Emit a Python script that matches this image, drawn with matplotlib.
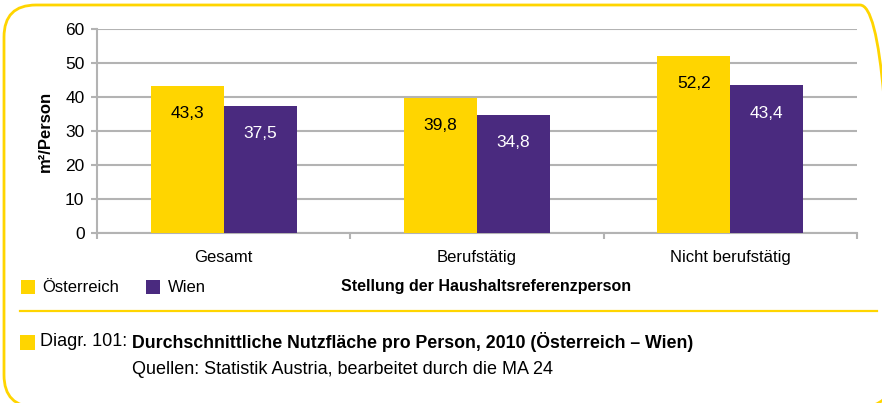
import matplotlib
matplotlib.use("Agg")
import matplotlib.pyplot as plt
from matplotlib.patches import FancyBboxPatch, Rectangle
from matplotlib.lines import Line2D
import numpy as np

categories = ["Gesamt", "Berufstätig", "Nicht berufstätig"]
oesterreich = [43.3, 39.8, 52.2]
wien = [37.5, 34.8, 43.4]
series_names = ["Österreich", "Wien"]
yticks = [0, 10, 20, 30, 40, 50, 60]

YEL = "#FFD500"
PUR = "#4A2A7F"
GRID = "#B3B3B3"

plt.rcParams['font.family'] = ['Liberation Sans Narrow', 'Liberation Sans', 'DejaVu Sans']

W, H = 882, 403
fig = plt.figure(figsize=(W/100, H/100), dpi=100)

def fx(px): return px / W
def fy(py): return 1 - py / H

# background overlay axes in pixel coordinates (y up)
bg = fig.add_axes([0, 0, 1, 1])
bg.set_xlim(0, W)
bg.set_ylim(0, H)
bg.axis('off')
def Y(py): return H - py
bg.add_patch(FancyBboxPatch((4, Y(407)), 888, 402,
                            boxstyle="round,pad=0,rounding_size=32",
                            fill=False, edgecolor=YEL, lw=2.0, clip_on=False))
bg.add_line(Line2D([20, 877], [Y(311), Y(311)], color=YEL, lw=1.6))

ax = fig.add_axes([fx(97), fy(233), fx(857) - fx(97), (233-29)/H])
x = np.arange(len(categories))
bw = 0.288
ax.bar(x - bw/2, oesterreich, bw, color=YEL, zorder=3)
ax.bar(x + bw/2, wien, bw, color=PUR, zorder=3)
for i in range(len(categories)):
    ax.text(x[i] - bw/2, oesterreich[i] - 8.3, f"{oesterreich[i]:.1f}".replace('.', ','),
            ha='center', va='center', fontsize=12.5, color='black', zorder=4)
    ax.text(x[i] + bw/2, wien[i] - 8.3, f"{wien[i]:.1f}".replace('.', ','),
            ha='center', va='center', fontsize=12.5, color='white', zorder=4)

ax.set_xlim(-0.5, 2.5)
ax.set_ylim(0, 60)
ax.set_yticks(yticks)
ax.set_yticklabels([str(t) for t in yticks], fontsize=12.5)
ax.yaxis.grid(True, color=GRID, lw=1.5, zorder=0)
ax.set_axisbelow(True)
for s in ['top', 'right']:
    ax.spines[s].set_visible(False)
for s in ['left', 'bottom']:
    ax.spines[s].set_color(GRID)
    ax.spines[s].set_linewidth(1.5)
ax.tick_params(axis='y', length=4, color=GRID, width=1.5, pad=5)
ax.set_xticks(x)
ax.set_xticklabels(categories, fontsize=12)
ax.tick_params(axis='x', length=0, pad=12)
ax.set_xticks([-0.5, 0.5, 1.5, 2.5], minor=True)
ax.tick_params(axis='x', which='minor', length=4, color=GRID, width=1.5)
ax.set_ylabel("m²/Person", fontsize=12, fontweight='bold', labelpad=9)

# legend
bg.add_patch(Rectangle((21, Y(294)), 14, 14, facecolor=YEL, edgecolor='none'))
bg.text(42, Y(287), series_names[0], fontsize=12, va='center', ha='left')
bg.add_patch(Rectangle((146, Y(294)), 14, 14, facecolor=PUR, edgecolor='none'))
bg.text(168, Y(287), series_names[1], fontsize=12, va='center', ha='left')
bg.text(486, Y(287), "Stellung der Haushaltsreferenzperson", fontsize=11.5,
        fontweight='bold', va='center', ha='center')

# caption
bg.add_patch(Rectangle((20, Y(350)), 15, 15, facecolor=YEL, edgecolor='none'))
bg.text(40, Y(342), "Diagr. 101: ", fontsize=13, va='center', ha='left')
bg.text(132, Y(342), "Durchschnittliche Nutzfläche pro Person, 2010 (Österreich – Wien)",
        fontsize=12.8, fontweight='bold', va='center', ha='left')
bg.text(132, Y(369), "Quellen: Statistik Austria, bearbeitet durch die MA 24",
        fontsize=13, va='center', ha='left')

fig.savefig("out.png", dpi=100)
